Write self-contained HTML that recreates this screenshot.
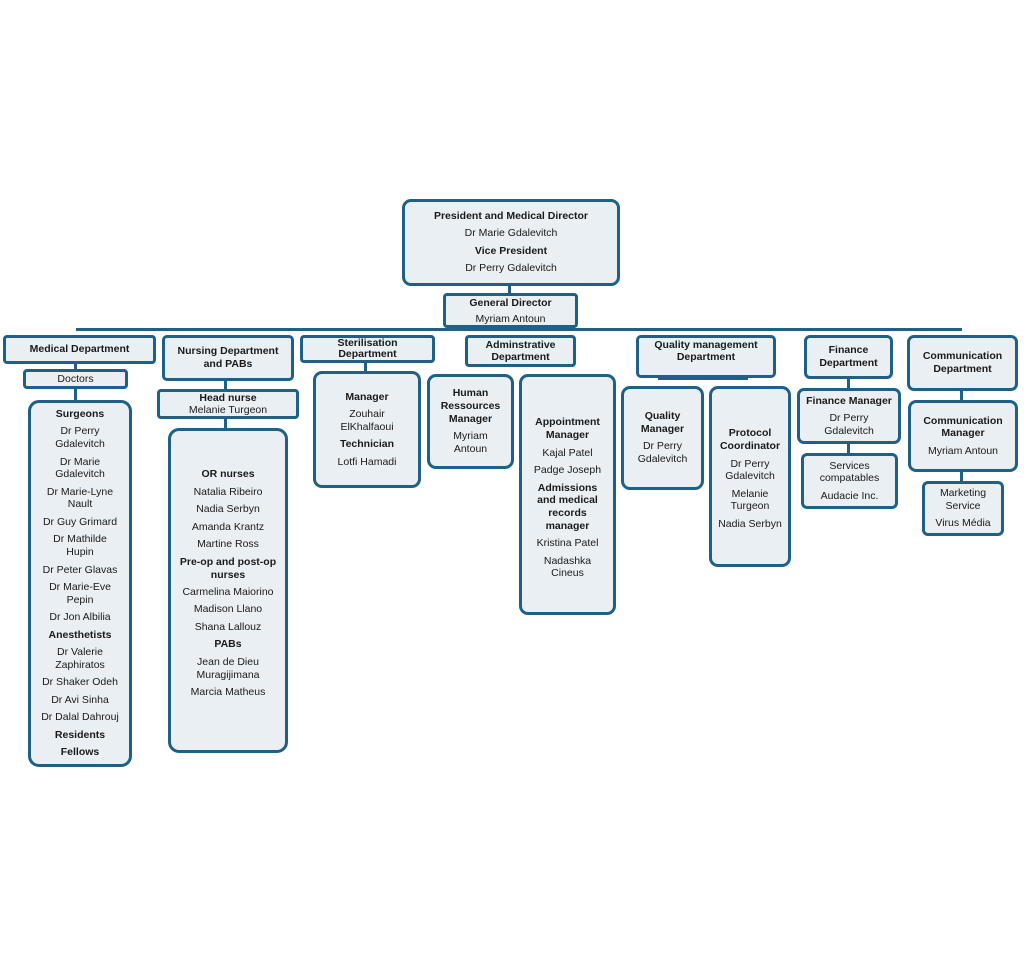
<!DOCTYPE html>
<html><head><meta charset="utf-8"><style>
body{margin:0;width:1024px;height:966px;background:#fff;position:relative;overflow:hidden;font-family:"Liberation Sans",Arial,sans-serif;color:#1a1a1a}
.b{position:absolute;box-sizing:border-box;border:3px solid #1f6186;background:#e9eff3;border-radius:7px;display:flex;flex-direction:column;justify-content:center;align-items:center;text-align:center;font-size:10.5px;line-height:12.7px}
.b div{margin:2.4px 0;white-space:nowrap}
.t div{margin:0}
.t{line-height:12px}
.l{position:absolute;background:#1f6186}
</style></head><body>
<div class="l" style="left:76px;top:328px;width:886px;height:3px"></div>
<div class="l" style="left:508px;top:285px;width:3px;height:9px"></div>
<div class="l" style="left:74px;top:362px;width:3px;height:8px"></div>
<div class="l" style="left:74px;top:388px;width:3px;height:13px"></div>
<div class="l" style="left:224px;top:380px;width:3px;height:10px"></div>
<div class="l" style="left:224px;top:418px;width:3px;height:11px"></div>
<div class="l" style="left:364px;top:362px;width:3px;height:10px"></div>
<div class="l" style="left:658px;top:377px;width:90px;height:3px"></div>
<div class="l" style="left:847px;top:378px;width:3px;height:11px"></div>
<div class="l" style="left:847px;top:443px;width:3px;height:11px"></div>
<div class="l" style="left:960px;top:390px;width:3px;height:11px"></div>
<div class="l" style="left:960px;top:471px;width:3px;height:11px"></div>

<div class="b" style="left:402px;top:199px;width:218px;height:87px;border-radius:9px"><div><b>President and Medical Director</b></div><div>Dr Marie Gdalevitch</div><div><b>Vice President</b></div><div>Dr Perry Gdalevitch</div></div>
<div class="b t" style="left:443px;top:293px;width:135px;height:35px;border-radius:4px;line-height:16px"><div><b>General Director</b></div><div>Myriam Antoun</div></div>

<div class="b" style="left:3px;top:335px;width:153px;height:29px;border-radius:4px"><div><b>Medical Department</b></div></div>
<div class="b t" style="left:23px;top:369px;width:105px;height:20px;border-radius:4px"><div>Doctors</div></div>
<div class="b" style="left:28px;top:400px;width:104px;height:367px;border-radius:11px"><div><b>Surgeons</b></div><div>Dr Perry<br>Gdalevitch</div><div>Dr Marie<br>Gdalevitch</div><div>Dr Marie-Lyne<br>Nault</div><div>Dr Guy Grimard</div><div>Dr Mathilde<br>Hupin</div><div>Dr Peter Glavas</div><div>Dr Marie-Eve<br>Pepin</div><div>Dr Jon Albilia</div><div><b>Anesthetists</b></div><div>Dr Valerie<br>Zaphiratos</div><div>Dr Shaker Odeh</div><div>Dr Avi Sinha</div><div>Dr Dalal Dahrouj</div><div><b>Residents</b></div><div><b>Fellows</b></div></div>

<div class="b" style="left:162px;top:335px;width:132px;height:46px;border-radius:5px"><div><b>Nursing Department<br>and PABs</b></div></div>
<div class="b t" style="left:157px;top:389px;width:142px;height:30px;border-radius:4px"><div><b>Head nurse</b></div><div>Melanie Turgeon</div></div>
<div class="b" style="left:168px;top:428px;width:120px;height:325px;border-radius:11px;justify-content:flex-start;padding-top:35px"><div><b>OR nurses</b></div><div>Natalia Ribeiro</div><div>Nadia Serbyn</div><div>Amanda Krantz</div><div>Martine Ross</div><div><b>Pre-op and post-op<br>nurses</b></div><div>Carmelina Maiorino</div><div>Madison Llano</div><div>Shana Lallouz</div><div><b>PABs</b></div><div>Jean de Dieu<br>Muragijimana</div><div>Marcia Matheus</div></div>

<div class="b t" style="left:300px;top:335px;width:135px;height:28px;border-radius:4px;line-height:11.5px"><div><b>Sterilisation<br>Department</b></div></div>
<div class="b" style="left:313px;top:371px;width:108px;height:117px;border-radius:9px"><div><b>Manager</b></div><div>Zouhair<br>ElKhalfaoui</div><div><b>Technician</b></div><div>Lotfi Hamadi</div></div>

<div class="b t" style="left:465px;top:335px;width:111px;height:32px;border-radius:4px;line-height:12px"><div><b>Adminstrative<br>Department</b></div></div>
<div class="b" style="left:427px;top:374px;width:87px;height:95px;border-radius:9px"><div><b>Human<br>Ressources<br>Manager</b></div><div>Myriam<br>Antoun</div></div>
<div class="b" style="left:519px;top:374px;width:97px;height:241px;border-radius:9px;justify-content:flex-start;padding-top:37px"><div><b>Appointment<br>Manager</b></div><div>Kajal Patel</div><div>Padge Joseph</div><div><b>Admissions<br>and medical<br>records<br>manager</b></div><div>Kristina Patel</div><div>Nadashka<br>Cineus</div></div>

<div class="b t" style="left:636px;top:335px;width:140px;height:43px;border-radius:5px;justify-content:flex-start;padding-top:1px"><div><b>Quality management<br>Department</b></div></div>
<div class="b" style="left:621px;top:386px;width:83px;height:104px;border-radius:9px"><div><b>Quality<br>Manager</b></div><div>Dr Perry<br>Gdalevitch</div></div>
<div class="b" style="left:709px;top:386px;width:82px;height:181px;border-radius:9px;justify-content:flex-start;padding-top:36px"><div><b>Protocol<br>Coordinator</b></div><div>Dr Perry<br>Gdalevitch</div><div>Melanie<br>Turgeon</div><div>Nadia Serbyn</div></div>

<div class="b" style="left:804px;top:335px;width:89px;height:44px;border-radius:6px"><div><b>Finance<br>Department</b></div></div>
<div class="b" style="left:797px;top:388px;width:104px;height:56px;border-radius:7px"><div><b>Finance Manager</b></div><div>Dr Perry<br>Gdalevitch</div></div>
<div class="b" style="left:801px;top:453px;width:97px;height:56px;border-radius:6px"><div>Services<br>compatables</div><div>Audacie Inc.</div></div>

<div class="b" style="left:907px;top:335px;width:111px;height:56px;border-radius:7px"><div><b>Communication<br>Department</b></div></div>
<div class="b" style="left:908px;top:400px;width:110px;height:72px;border-radius:8px"><div><b>Communication<br>Manager</b></div><div>Myriam Antoun</div></div>
<div class="b" style="left:922px;top:481px;width:82px;height:55px;border-radius:6px"><div>Marketing<br>Service</div><div>Virus Média</div></div>
</body></html>
